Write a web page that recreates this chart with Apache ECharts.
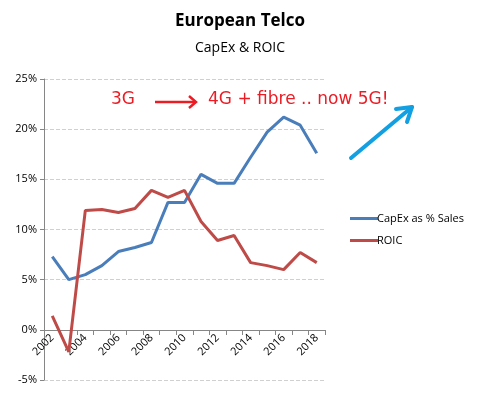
<!DOCTYPE html>
<html><head><meta charset="utf-8">
<script src="https://cdn.jsdelivr.net/npm/echarts@6/dist/echarts.min.js"></script>
<style>html,body{margin:0;padding:0;background:#fff}#c{width:480px;height:395px}</style>
</head><body><div id="c"></div>
<script>
const years = ['2002','2003','2004','2005','2006','2007','2008','2009','2010','2011','2012','2013','2014','2015','2016','2017','2018'];
const capex = [7.3, 5.0, 5.5, 6.4, 7.8, 8.2, 8.7, 12.7, 12.7, 15.5, 14.6, 14.6, 17.2, 19.7, 21.2, 20.4, 17.6];
const roic = [1.4, -2.2, 11.9, 12.0, 11.7, 12.1, 13.9, 13.2, 13.9, 10.8, 8.9, 9.4, 6.7, 6.4, 6.0, 7.7, 6.7];
const yTicks = {min: -5, max: 25, interval: 5};

const chart = echarts.init(document.getElementById('c'));
const font = 'Open Sans, Noto Sans, sans-serif';
const hand = 'DejaVu Sans, sans-serif';
chart.setOption({
  animation: false,
  title: {
    text: 'European Telco', subtext: 'CapEx & ROIC', left: 'center', top: 8, itemGap: 11,
    textStyle: {fontFamily: font, fontSize: 17, fontWeight: 'bold', color: '#000'},
    subtextStyle: {fontFamily: font, fontSize: 14, color: '#000'}
  },
  legend: {
    orient: 'vertical', left: 345, top: 208, itemWidth: 28, itemHeight: 3, itemGap: 11,
    icon: 'rect',
    textStyle: {fontFamily: font, fontSize: 11, color: '#000', padding: [0,0,0,-6]},
    data: ['CapEx as % Sales', 'ROIC']
  },
  grid: {left: 44, top: 79, width: 281, height: 301, outerBoundsMode: 'none', containLabel: false},
  xAxis: {
    type: 'category', data: years, boundaryGap: true, position: 'bottom', offset: -50,
    axisLine: {onZero: false, lineStyle: {color: '#868686'}},
    axisTick: {show: true, length: 5, interval: 0, lineStyle: {color: '#868686'}},
    axisLabel: {interval: 1, rotate: 45, fontFamily: font, fontSize: 11, color: '#000', margin: 6}
  },
  yAxis: {
    type: 'value', min: yTicks.min, max: yTicks.max, interval: yTicks.interval,
    axisLine: {show: true, lineStyle: {color: '#868686'}},
    axisTick: {show: true, length: 4, lineStyle: {color: '#868686'}},
    axisLabel: {formatter: '{value}%', fontFamily: font, fontSize: 11, color: '#000', margin: 7},
    splitLine: {lineStyle: {color: '#d0d0d0', type: 'dashed'}}
  },
  series: [
    {name: 'CapEx as % Sales', type: 'line', data: capex, symbol: 'none',
     lineStyle: {width: 3, color: '#4a7ebb'}, itemStyle: {color: '#4a7ebb'}},
    {name: 'ROIC', type: 'line', data: roic, symbol: 'none',
     lineStyle: {width: 3, color: '#be4b48'}, itemStyle: {color: '#be4b48'}}
  ],
  graphic: [
    {type: 'text', left: 111, top: 91, style: {text: '3G', fontFamily: hand, fontSize: 17, fill: '#ec1c24'}},
    {type: 'line', shape: {x1: 155, y1: 102, x2: 196, y2: 102}, style: {stroke: '#ec1c24', lineWidth: 2.5}},
    {type: 'polyline', shape: {points: [[189, 96], [196, 102], [189, 108]]}, style: {stroke: '#ec1c24', lineWidth: 2.5, fill: null}},
    {type: 'text', left: 208, top: 91, style: {text: '4G + fibre .. now 5G!', fontFamily: hand, fontSize: 17, fill: '#ec1c24'}},
    {type: 'line', shape: {x1: 351, y1: 158, x2: 412, y2: 107}, style: {stroke: '#12a0e2', lineWidth: 4, lineCap: 'round'}},
    {type: 'polyline', shape: {points: [[396, 109], [412, 107], [407, 122]]}, style: {stroke: '#12a0e2', lineWidth: 4, fill: null, lineCap: 'round', lineJoin: 'round'}}
  ]
});
</script></body></html>
